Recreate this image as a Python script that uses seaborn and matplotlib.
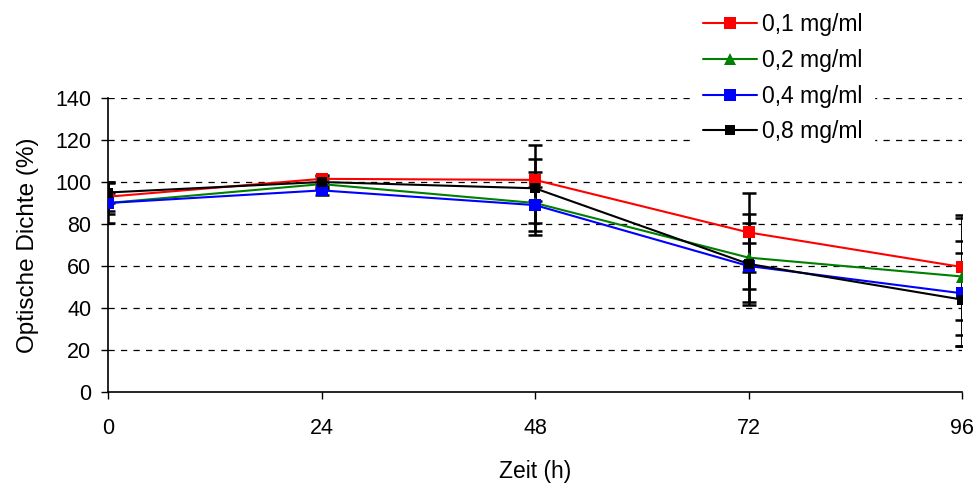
import matplotlib
matplotlib.use("Agg")
import matplotlib.pyplot as plt
from matplotlib.lines import Line2D
import seaborn as sns
import pandas as pd

# Messzeitpunkte (h)
zeit = [0, 24, 48, 72, 96]

# Konzentrationen
konzentrationen = ["0,1 mg/ml", "0,2 mg/ml", "0,4 mg/ml", "0,8 mg/ml"]

# Optische Dichte (%) – Mittelwerte
od_01 = [93, 101.5, 101, 76, 59.5]
od_02 = [90, 99, 90, 64, 55]
od_04 = [90, 96, 89, 60, 47]
od_08 = [95, 100, 97, 61, 44]

# Standardabweichungen
sd_01 = [7, 2, 10, 19, 25]
sd_02 = [9.5, 2.5, 15, 21, 28]
sd_04 = [5, 2, 8.5, 11, 25]
sd_08 = [5, 3, 20.5, 19.5, 22]

mittelwerte = [od_01, od_02, od_04, od_08]
abweichungen = [sd_01, sd_02, sd_04, sd_08]

farben = ["#ff0000", "#008000", "#0000ff", "#000000"]
marker = ["s", "^", "s", "s"]
markergroesse = [8.5, 9, 8.5, 7.5]

rows = []
for k, werte in zip(konzentrationen, mittelwerte):
    for t, v in zip(zeit, werte):
        rows.append({"Zeit": t, "OD": v, "Konzentration": k})
df = pd.DataFrame(rows)

sns.set_theme(style="white")
plt.rcParams["font.family"] = ["Liberation Sans", "DejaVu Sans"]

fig = plt.figure(figsize=(9.8, 4.88), dpi=100)
ax = fig.add_axes([108 / 980, 96 / 488, 854 / 980, 294 / 488])

# Fehlerbalken (schwarz, unter den Markern)
for werte, sd in zip(mittelwerte, abweichungen):
    ax.errorbar(zeit, werte, yerr=sd, fmt="none", ecolor="black",
                elinewidth=1.8, capsize=5, capthick=1.8, zorder=2)

n_vorher = len(ax.lines)
sns.lineplot(data=df, x="Zeit", y="OD", hue="Konzentration",
             style="Konzentration", hue_order=konzentrationen,
             style_order=konzentrationen, palette=farben,
             markers=marker, dashes=False, linewidth=1.5,
             markeredgewidth=0, ax=ax, zorder=3, legend=False)

# Markergrößen je Serie
for line, ms in zip(ax.lines[n_vorher:], markergroesse):
    line.set_markersize(ms)
    line.set_zorder(3)

ax.set_xlim(0, 96)
ax.set_ylim(0, 140)
ax.set_xticks(zeit)
ax.set_yticks(range(0, 141, 20))
ax.tick_params(axis="both", labelsize=15.5, colors="black", length=5,
               width=1, direction="out", left=True, bottom=True)
ax.tick_params(axis="y", pad=7)
ax.tick_params(axis="x", pad=14)

for y in range(20, 141, 20):
    ax.axhline(y, color="black", linestyle=(0, (5, 5)), linewidth=0.9, zorder=1)

for s in ["top", "right"]:
    ax.spines[s].set_visible(False)
for s in ["left", "bottom"]:
    ax.spines[s].set_color("black")
    ax.spines[s].set_linewidth(1.2)

ax.set_xlabel("Zeit (h)", fontsize=16.5, color="black", labelpad=15)
ax.set_ylabel("Optische Dichte (%)", fontsize=17.5, color="black", labelpad=12)

# Legende
handles = [Line2D([0], [0], color=c, marker=m, markersize=ms,
                  markeredgewidth=0, linewidth=1.5)
           for c, m, ms in zip(farben, marker, markergroesse)]
leg = fig.legend(handles, konzentrationen, loc="upper left",
                 bbox_to_anchor=(692 / 980, 1 - 2 / 488),
                 fontsize=16.5, frameon=True, facecolor="white",
                 edgecolor="white", framealpha=1, fancybox=False,
                 handlelength=2.35, handletextpad=0.22, labelspacing=0.55,
                 borderpad=0.5, borderaxespad=0)
leg.set_zorder(10)
for txt in leg.get_texts():
    txt.set_color("black")

fig.savefig("out.png", dpi=100, facecolor="white")
